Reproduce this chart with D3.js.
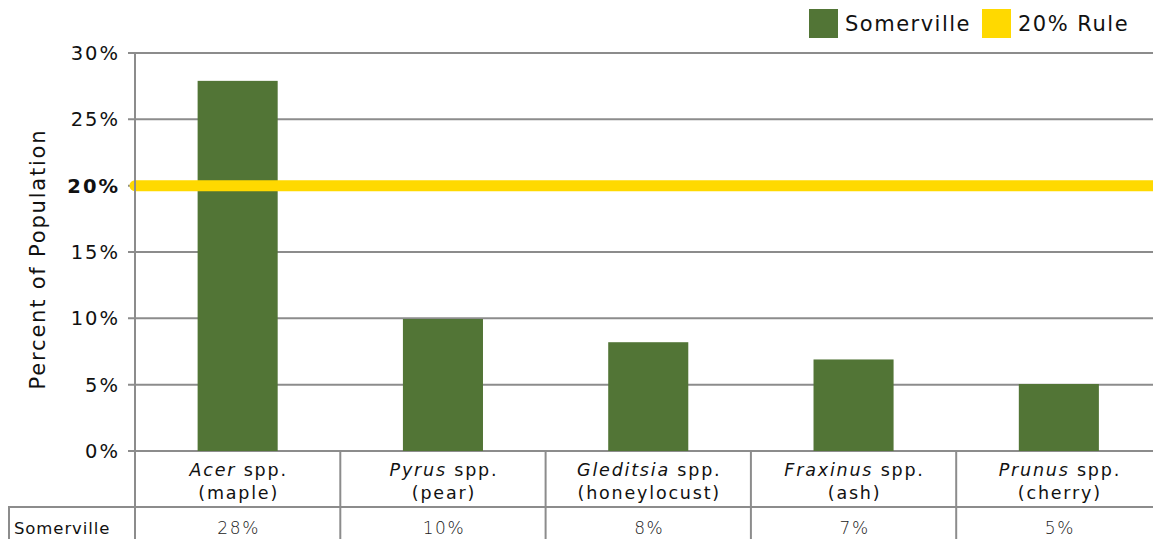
<!DOCTYPE html>
<html>
<head>
<meta charset="utf-8">
<script src="https://cdn.jsdelivr.net/npm/d3@7"></script>
<style>
  body { margin: 0; background: #fff; }
  svg { display: block; font-family: "DejaVu Sans", "Open Sans", sans-serif; }
</style>
</head>
<body>
<svg id="chart" width="1153" height="539"></svg>
<script>
// Genus data (percent of population)
const genera = ["Acer", "Pyrus", "Gleditsia", "Fraxinus", "Prunus"];
const commonNames = ["(maple)", "(pear)", "(honeylocust)", "(ash)", "(cherry)"];
const somerville = [27.9, 9.95, 8.2, 6.9, 5.05];
const tableValues = ["28%", "10%", "8%", "7%", "5%"];
const yTicks = [0, 5, 10, 15, 20, 25, 30];
const ruleValue = 20;

const green = "#527536";
const yellow = "#ffd900";
const grid = "#8c8c8c";

const svg = d3.select("#chart");

const plot = { left: 135, right: 1153, top: 53, bottom: 451 };

const x = d3.scaleBand()
  .domain(genera)
  .range([plot.left, plot.left + 5 * 205.3])
  .padding(0);

const y = d3.scaleLinear()
  .domain([0, 30])
  .range([plot.bottom, plot.top]);

const barW = x.bandwidth() * 0.39;

// gridlines + tick marks
svg.append("g")
  .selectAll("line")
  .data(yTicks)
  .join("line")
  .attr("x1", plot.left - 7)
  .attr("x2", plot.right)
  .attr("y1", d => y(d))
  .attr("y2", d => y(d))
  .attr("stroke", grid)
  .attr("stroke-width", 2);

// tick labels
svg.append("g")
  .selectAll("text")
  .data(yTicks)
  .join("text")
  .attr("x", 120)
  .attr("y", d => y(d) + 7)
  .attr("text-anchor", "end")
  .attr("font-size", 19.5)
  .attr("letter-spacing", 2)
  .attr("font-weight", d => d === ruleValue ? 700 : 400)
  .attr("fill", "#111")
  .text(d => d + "%");

// y axis title
svg.append("text")
  .attr("transform", `translate(45,${(plot.top + plot.bottom) / 2 + 7}) rotate(-90)`)
  .attr("text-anchor", "middle")
  .attr("font-size", 21)
  .attr("letter-spacing", 1.8)
  .attr("fill", "#111")
  .text("Percent of Population");

// bars
svg.append("g")
  .selectAll("rect")
  .data(genera)
  .join("rect")
  .attr("x", (d) => x(d) + (x.bandwidth() - barW) / 2)
  .attr("y", (d, i) => y(somerville[i]))
  .attr("width", barW)
  .attr("height", (d, i) => y(0) - y(somerville[i]))
  .attr("fill", green);

// 20% rule line
svg.append("line")
  .attr("x1", plot.left)
  .attr("x2", plot.right + 10)
  .attr("y1", y(ruleValue))
  .attr("y2", y(ruleValue))
  .attr("stroke", yellow)
  .attr("stroke-width", 11)
  .attr("stroke-linecap", "round");

// table grid
const rowTop = plot.bottom, rowMid = 507, rowBot = 545;
const table = svg.append("g").attr("stroke", grid).attr("stroke-width", 2);
table.append("line")
  .attr("x1", plot.left).attr("x2", plot.left)
  .attr("y1", plot.top).attr("y2", rowBot);
table.append("line")
  .attr("x1", 8).attr("x2", plot.right)
  .attr("y1", rowMid).attr("y2", rowMid);
table.append("line")
  .attr("x1", 9).attr("x2", 9)
  .attr("y1", rowMid).attr("y2", rowBot);
table.selectAll(".div")
  .data(genera.slice(1))
  .join("line")
  .attr("x1", d => x(d)).attr("x2", d => x(d))
  .attr("y1", rowTop).attr("y2", rowBot);

// category labels
const cats = svg.append("g")
  .selectAll("g")
  .data(genera)
  .join("g")
  .attr("transform", d => `translate(${x(d) + x.bandwidth() / 2 + 1},0)`);

const line1 = cats.append("text")
  .attr("y", 476)
  .attr("text-anchor", "middle")
  .attr("font-size", 17.5)
  .attr("letter-spacing", 1.8)
  .attr("fill", "#111");
line1.append("tspan").attr("font-style", "italic").text(d => d);
line1.append("tspan").text(" spp.");

cats.append("text")
  .attr("y", 499)
  .attr("text-anchor", "middle")
  .attr("font-size", 17.5)
  .attr("letter-spacing", 1.8)
  .attr("fill", "#111")
  .text((d, i) => commonNames[i]);

cats.append("text")
  .attr("y", 534)
  .attr("text-anchor", "middle")
  .attr("font-size", 17)
  .attr("letter-spacing", 1.6)
  .attr("font-weight", 300)
  .attr("fill", "#222")
  .text((d, i) => tableValues[i]);

svg.append("text")
  .attr("x", 14)
  .attr("y", 534)
  .attr("font-size", 16.5)
  .attr("letter-spacing", 0.9)
  .attr("fill", "#111")
  .text("Somerville");

// legend
const legendItems = [
  { label: "Somerville", color: green, x: 809 },
  { label: "20% Rule", color: yellow, x: 982 }
];
const legend = svg.append("g")
  .selectAll("g")
  .data(legendItems)
  .join("g")
  .attr("transform", d => `translate(${d.x},9)`);
legend.append("rect")
  .attr("width", 29)
  .attr("height", 29)
  .attr("fill", d => d.color);
legend.append("text")
  .attr("x", 36)
  .attr("y", 22)
  .attr("font-size", 21)
  .attr("letter-spacing", 1.5)
  .attr("fill", "#111")
  .text(d => d.label);
</script>
</body>
</html>
